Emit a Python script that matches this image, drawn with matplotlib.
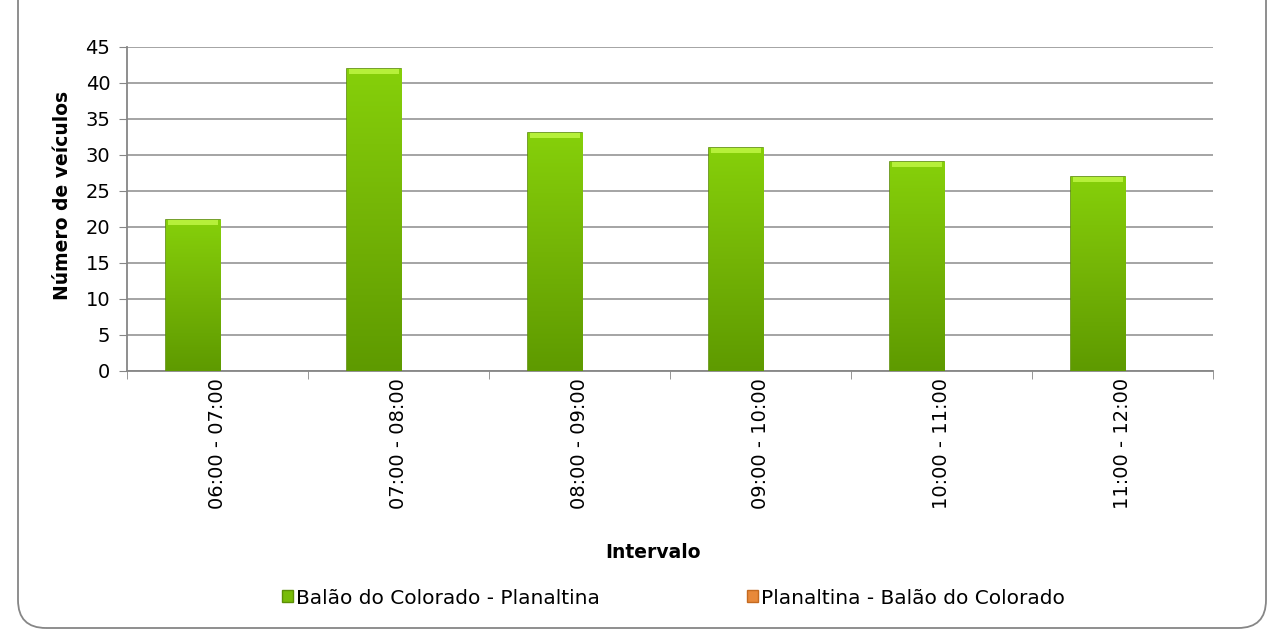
import numpy as np
import matplotlib
matplotlib.use('Agg')
import matplotlib.pyplot as plt
from matplotlib.patches import FancyBboxPatch, Patch

plt.rcParams['font.family'] = ['DejaVu Sans']

categories = ['06:00 - 07:00', '07:00 - 08:00', '08:00 - 09:00',
              '09:00 - 10:00', '10:00 - 11:00', '11:00 - 12:00']
serie_ida = [21, 42, 33, 31, 29, 27]      # Balão do Colorado - Planaltina
serie_volta = [0, 0, 0, 0, 0, 0]          # Planaltina - Balão do Colorado
legend_labels = ['Balão do Colorado - Planaltina', 'Planaltina - Balão do Colorado']
y_ticks = list(range(0, 50, 5))

fig = plt.figure(figsize=(12.71, 6.30), dpi=100, facecolor='white')

# moldura arredondada (em polegadas)
frame = FancyBboxPatch((0.18, 0.02), 12.48, 6.6,
                       boxstyle='round,pad=0,rounding_size=0.28',
                       transform=fig.dpi_scale_trans, facecolor='none',
                       edgecolor='#868686', linewidth=1.3, zorder=-1)
fig.patches.append(frame)

ax = fig.add_axes([127 / 1271, 1 - 371 / 630, (1213 - 127) / 1271, (371 - 47) / 630])
ax.set_facecolor('none')

x = np.arange(len(categories))
w = 0.3
off = 0.135
bars = ax.bar(x - off, serie_ida, width=w, color='#78bc08',
              edgecolor='#5c8f06', linewidth=1.2, zorder=3)
ax.bar(x + w - off, serie_volta, width=w, color='#e8893a', zorder=3)

# gradiente nas barras
grad = np.linspace(0, 1, 256).reshape(-1, 1)
cmap = matplotlib.colors.LinearSegmentedColormap.from_list(
    'g', ['#5e9a00', '#74b406', '#86d00a'])
for b in bars:
    x0, y0 = b.get_x(), b.get_y()
    bw, bh = b.get_width(), b.get_height()
    im = ax.imshow(grad, extent=[x0, x0 + bw, y0, y0 + bh], origin='lower',
                   cmap=cmap, aspect='auto', zorder=3.5)
    im.set_clip_path(b)
    # brilho no topo
    ax.bar(x0 + bw / 2, 0.7, bottom=y0 + bh - 0.7, width=bw * 0.92,
           color='#b6f03a', linewidth=0, zorder=4)

ax.set_xlim(-0.5, len(categories) - 0.5)
ax.set_ylim(0, 45)
ax.set_yticks(y_ticks)
ax.tick_params(axis='y', length=6, color='#868686', labelsize=14, pad=6)
ax.yaxis.grid(True, color='#8c8c8c', linewidth=1.1, zorder=0)
ax.set_axisbelow(True)

ax.set_xticks(x)
ax.set_xticklabels(categories, rotation=90, fontsize=14)
ax.tick_params(axis='x', which='major', length=0, pad=5)
ax.set_xticks(np.arange(-0.5, len(categories), 1), minor=True)
ax.tick_params(axis='x', which='minor', length=6, color='#868686')

for s in ['top', 'right']:
    ax.spines[s].set_visible(False)
for s in ['left', 'bottom']:
    ax.spines[s].set_color('#868686')
    ax.spines[s].set_linewidth(1.3)

fig.text(62 / 1271, 1 - 195 / 630, 'Número de veículos', fontsize=13.5,
         fontweight='bold', rotation=90, ha='center', va='center')
fig.text(653 / 1271, 1 - 553 / 630, 'Intervalo', fontsize=13.5, fontweight='bold',
         ha='center', va='center')

handles = [Patch(facecolor='#78bc08', edgecolor='#5c8f06'),
           Patch(facecolor='#e8893a', edgecolor='#c46a20')]
fig.legend(handles, legend_labels, loc='center left',
           bbox_to_anchor=(282 / 1271, 1 - 598 / 630),
           ncol=2, frameon=False, fontsize=14.5, handlelength=0.55, handleheight=0.55,
           handletextpad=0.15, columnspacing=7.3, borderpad=0, borderaxespad=0)

fig.savefig('out.png', dpi=100, facecolor='white')
